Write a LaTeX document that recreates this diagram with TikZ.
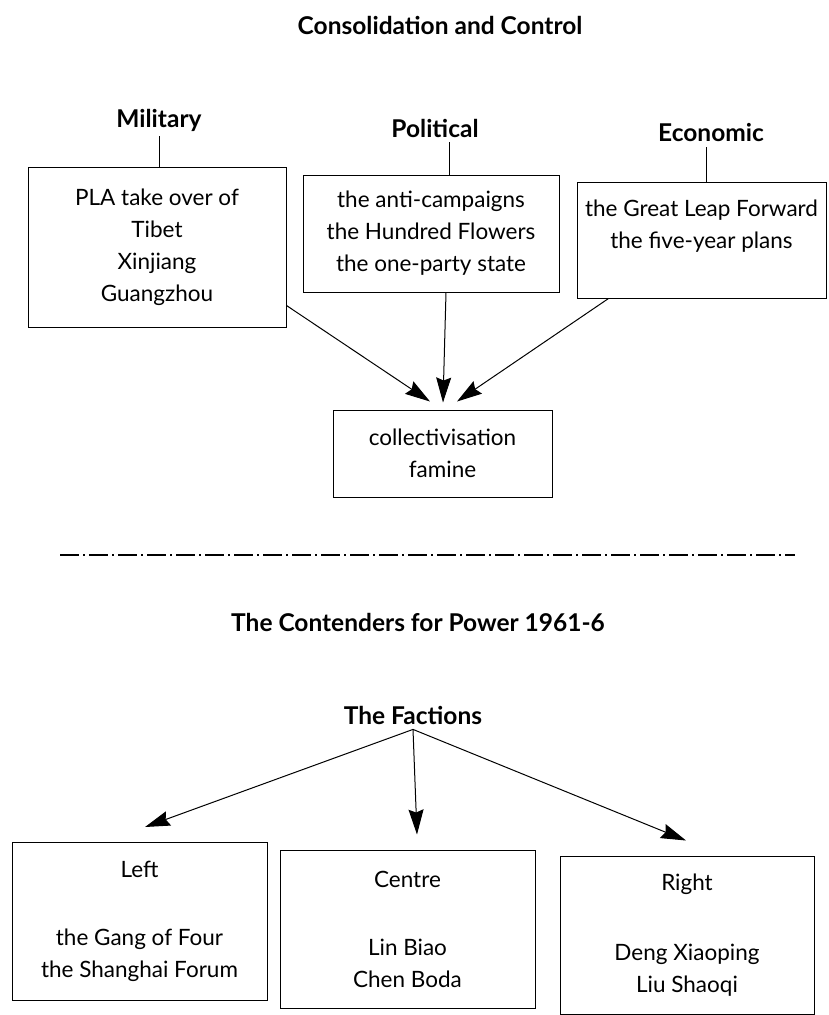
\documentclass[tikz,border=0pt]{standalone}
\usepackage{fontspec}
\setmainfont{Lato}
\usetikzlibrary{
	arrows.meta,	% Stealth arrow tips
	positioning,	% Relative positioning
	calc			% Offsets from anchors
}

\begin{document}
\begin{tikzpicture}[x=1pt, y=-1pt, font=\fontsize{22.5pt}{32pt}\selectfont]
		\tikzstyle{box} = [draw, line width=1pt, align=center, inner sep=0pt]
		\tikzstyle{head} = [font=\fontsize{24.5pt}{32pt}\selectfont\bfseries, inner xsep=0pt, inner ysep=5pt]
		\tikzstyle{link} = [-{Stealth[length=25pt, width=15pt, inset=3pt]}, line width=1pt]
		\tikzstyle{tick} = [line width=1pt]
		\useasboundingbox (0,0) rectangle (828,1015);
		
		% Part 1: Consolidation and Control
		\node[head] at (440,25) (consTitle) {Consolidation and Control};
		%% Headings
		\node[head] at (159,120) (milHead) {Military};
		\node[head] at (435,128) (polHead) {Political};
		\node[head] at (711,133) (ecoHead) {Economic};
		%% Boxes
		\node[box, minimum width=258, minimum height=160] at (157,247) (milBox)
			{PLA take over of\\Tibet\\Xinjiang\\Guangzhou};
		\node[box, minimum width=256, minimum height=117] at (431,233.5) (polBox)
			{the anti-campaigns\\the Hundred Flowers\\the one-party state};
		\node[box, minimum width=249, minimum height=116] at (701.5,240) (ecoBox)
			{the Great Leap Forward\\the five-year plans\\\mbox{}};
		\node[box, minimum width=219, minimum height=87] at (442.5,453.5) (colBox)
			{collectivisation\\famine};
		%% Ticks from headings
		\foreach \part/\dx in {mil/0, pol/14, eco/-5}{
			\coordinate (\part Tick) at ($(\part Head.south)+(\dx,0)$);
			\draw[tick] (\part Tick) to (\part Tick |- \part Box.north);
		}
		%% Arrows into collectivisation
		\draw[link] ($(milBox.south east)+(0,-22)$) to ($(colBox.north)+(-12.5,-8)$);
		\draw[link] ($(polBox.south)+(15,0)$) to ($(colBox.north)+(0.5,-7)$);
		\draw[link] ($(ecoBox.south west)+(32,0)$) to ($(colBox.north)+(14.5,-8)$);
		
		% Separator
		\coordinate (sepLeft) at (60,555);
		\coordinate (sepRight) at (795,555);
		\draw[line width=1.4pt, dash pattern=on 19pt off 4pt on 2pt off 4pt] (sepLeft) -- (sepRight);
		
		% Part 2: The Contenders for Power
		\node[head] at (418,622) (contTitle) {The Contenders for Power 1961-6};
		\node[head] at (413,715) (facHead) {The Factions};
		%% Faction boxes and arrows
		\foreach \side/\fx/\fy/\fw/\dx/\ftext in {
				left/139.5/921.5/255/5.5/{Left\\[36pt]the Gang of Four\\the Shanghai Forum},
				centre/407.5/929/255/9.5/{Centre\\[36pt]Lin Biao\\Chen Boda},
				right/687/935/254/-1/{Right\\[38pt]Deng Xiaoping\\Liu Shaoqi}}{
			\node[box, minimum width=\fw, minimum height=158] at (\fx,\fy) (\side Box) {\ftext};
			\draw[link] (facHead.south) to ($(\side Box.north)+(\dx,-15)$);
		}
	\end{tikzpicture}
\end{document}
